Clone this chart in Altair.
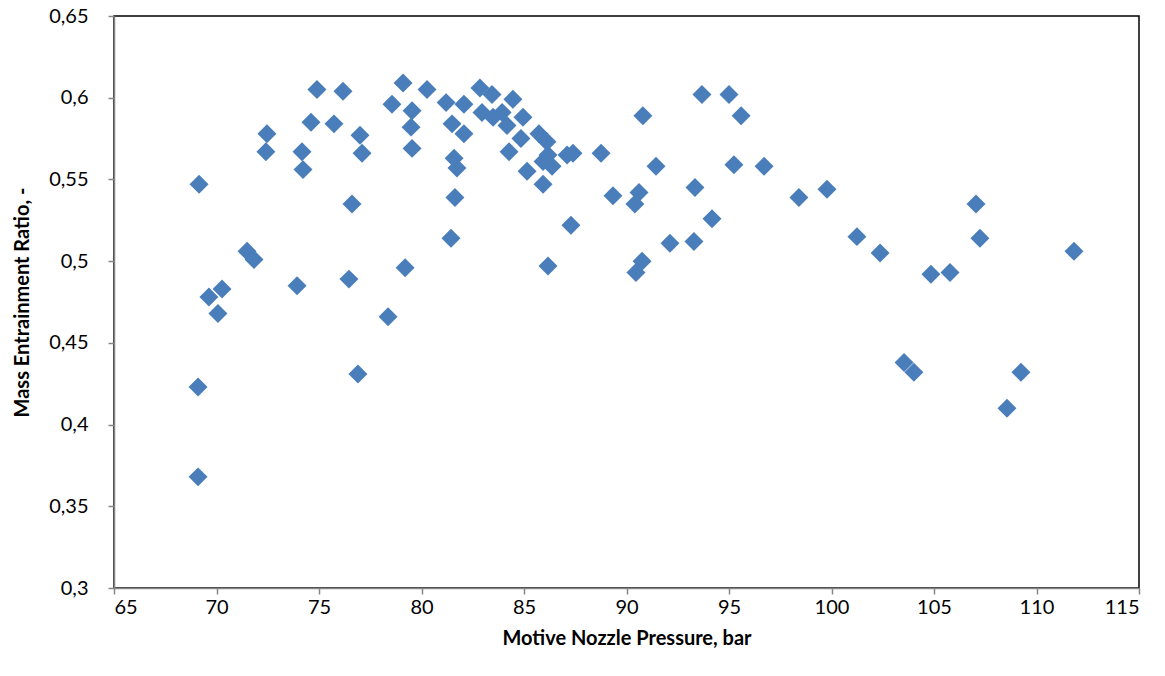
import altair as alt
import pandas as pd

pressure = [69.15, 69.10, 69.10, 69.63, 70.07, 70.27, 71.49, 71.83, 72.46, 72.41,
            73.93, 74.17, 74.22, 74.61, 74.90, 75.73, 76.17, 76.46, 76.61, 76.90,
            77.00, 77.10, 78.37, 78.56, 79.10, 79.20, 79.54, 79.49, 79.54, 80.27,
            81.20, 81.49, 81.44, 81.59, 81.73, 81.63, 82.07, 82.07, 82.85, 82.95,
            83.44, 83.49, 83.93, 84.17, 84.46, 84.95, 84.85, 84.27, 85.15, 85.73,
            86.12, 86.17, 85.93, 86.37, 85.93, 87.10, 87.39, 87.29, 86.17, 88.76,
            89.34, 90.61, 90.41, 90.80, 90.76, 90.46, 91.44, 92.12, 93.29, 93.34,
            93.68, 94.17, 95.00, 95.59, 95.24, 96.71, 98.41, 99.78, 101.24, 102.37,
            103.54, 104.02, 104.85, 105.78, 107.05, 107.24, 108.56, 109.24, 111.83]
ratio = [0.547, 0.423, 0.368, 0.478, 0.468, 0.483, 0.506, 0.501, 0.578, 0.567,
         0.485, 0.567, 0.556, 0.585, 0.605, 0.584, 0.604, 0.489, 0.535, 0.431,
         0.577, 0.566, 0.466, 0.596, 0.609, 0.496, 0.592, 0.582, 0.569, 0.605,
         0.597, 0.584, 0.514, 0.563, 0.557, 0.539, 0.596, 0.578, 0.606, 0.591,
         0.602, 0.588, 0.591, 0.583, 0.599, 0.588, 0.575, 0.567, 0.555, 0.578,
         0.573, 0.565, 0.561, 0.558, 0.547, 0.565, 0.566, 0.522, 0.497, 0.566,
         0.540, 0.542, 0.535, 0.589, 0.500, 0.493, 0.558, 0.511, 0.512, 0.545,
         0.602, 0.526, 0.602, 0.589, 0.559, 0.558, 0.539, 0.544, 0.515, 0.505,
         0.438, 0.432, 0.492, 0.493, 0.535, 0.514, 0.410, 0.432, 0.506]

x_ticks = [65, 70, 75, 80, 85, 90, 95, 100, 105, 110, 115]
y_ticks = [0.3, 0.35, 0.4, 0.45, 0.5, 0.55, 0.6, 0.65]

df = pd.DataFrame({"p": pressure, "r": ratio})

FONT = "Lato"

chart = alt.Chart(df).mark_point(
    shape="diamond", filled=True, size=360, color="#4A7EBB", opacity=1
).encode(
    x=alt.X("p:Q", scale=alt.Scale(domain=[65, 115], nice=False, zero=False),
            axis=alt.Axis(values=x_ticks, title="Motive Nozzle Pressure, bar",
                          format="d", grid=False, domainColor="#868686",
                          tickColor="#868686", tickSize=6, labelPadding=3,
                          titlePadding=11,
                          labelFont=FONT, labelFontSize=20, labelColor="#000000",
                          titleFont=FONT, titleFontSize=20, titleFontWeight="bold",
                          titleColor="#000000", domainWidth=1.5, tickWidth=1.5)),
    y=alt.Y("r:Q", scale=alt.Scale(domain=[0.3, 0.65], nice=False, zero=False),
            axis=alt.Axis(values=y_ticks, title="Mass Entrainment Ratio, -",
                          labelExpr="replace(format(datum.value, '.2~f'), '.', ',')",
                          grid=False, domainColor="#868686", tickColor="#868686",
                          tickSize=6, labelPadding=20, titlePadding=16,
                          labelFont=FONT, labelFontSize=20, labelColor="#000000",
                          titleFont=FONT, titleFontSize=20, titleFontWeight="bold",
                          titleColor="#000000", domainWidth=1.5, tickWidth=1.5)),
).properties(
    width=1025, height=572,
    autosize=alt.AutoSizeParams(type="none"),
    padding={"left": 114, "top": 16, "right": 26, "bottom": 88},
    background="white",
).configure_view(
    stroke="#000000", strokeWidth=1.5
)

chart.save("out.html", embed_options={"renderer": "svg", "actions": False})
